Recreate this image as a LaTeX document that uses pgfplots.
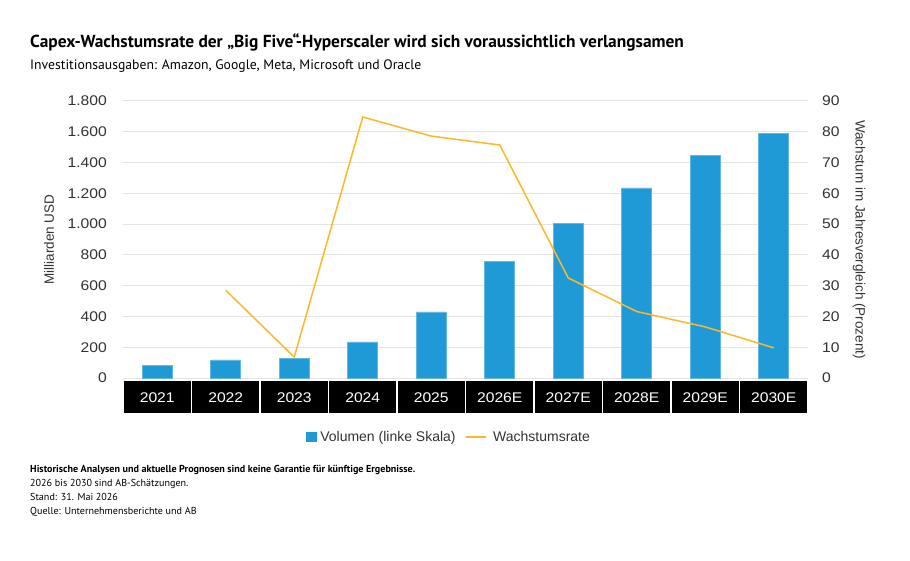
\documentclass[border=0pt]{standalone}
\usepackage{pgfplots}
\pgfplotsset{compat=1.18}
\usepackage{fontspec}
\setmainfont{PT Sans}
\newfontfamily\arialf{Liberation Sans}
\newfontfamily\arialw[FakeStretch=1.12]{Liberation Sans}
\definecolor{barblue}{HTML}{1F9AD6}
\definecolor{lineyel}{HTML}{FBB829}
\definecolor{gridg}{HTML}{E4E4E4}
\definecolor{txtg}{HTML}{333333}
\begin{document}
\begin{tikzpicture}[x=1pt,y=1pt]
\path[use as bounding box, fill=white] (0,0) rectangle (910,560);
\node[anchor=base west, font=\fontsize{17.4}{20}\selectfont\bfseries, inner sep=0] at (30,512) {Capex-Wachstumsrate der „Big Five“-Hyperscaler wird sich voraussichtlich verlangsamen};
\node[anchor=base west, font=\fontsize{13.7}{16}\selectfont, inner sep=0] at (30,490) {Investitionsausgaben: Amazon, Google, Meta, Microsoft und Oracle};
\node[anchor=base west, font=\fontsize{10.1}{12}\selectfont\bfseries, inner sep=0] at (30,88) {Historische Analysen und aktuelle Prognosen sind keine Garantie für künftige Ergebnisse.};
\node[anchor=base west, font=\fontsize{10.1}{12}\selectfont, inner sep=0] at (30,74) {2026 bis 2030 sind AB-Schätzungen.};
\node[anchor=base west, font=\fontsize{10.1}{12}\selectfont, inner sep=0] at (30,60) {Stand: 31. Mai 2026};
\node[anchor=base west, font=\fontsize{10.1}{12}\selectfont, inner sep=0] at (30,46) {Quelle: Unternehmensberichte und AB};

\begin{axis}[
  at={(123pt,182pt)}, anchor=south west,
  scale only axis, width=685pt, height=277pt,
  xmin=-0.5, xmax=9.5, ymin=0, ymax=1800,
  hide x axis,
  axis y line*=left,
  y axis line style={draw=none},
  ytick={0,200,...,1800},
  yticklabels={0,200,400,600,800,{1.000},{1.200},{1.400},{1.600},{1.800}},
  major tick length=0pt,
  ymajorgrids, grid style={gridg, line width=1pt},
  yticklabel style={anchor=east, inner sep=0pt, xshift=-16pt, font=\arialw\fontsize{14}{16}\selectfont, text=txtg},
  ylabel={Milliarden USD},
  ylabel style={at={(axis description cs:-0.108,0.5)}, anchor=center, font=\arialf\fontsize{13.5}{15}\selectfont, text=txtg},
  legend style={at={(axis description cs:0.476,-0.213)}, anchor=center, draw=none, fill=none, legend columns=2,
    font=\arialf\fontsize{14}{16}\selectfont, text=txtg, /tikz/every even column/.append style={column sep=8pt}},
]
\addplot[ybar, bar width=30pt, fill=barblue, draw=barblue!70!white, line width=0.6pt,
  legend image code/.code={\fill[barblue] (0pt,-4.5pt) rectangle (9.5pt,5pt); \path (11.5pt,0pt);}]
  coordinates {(0,84) (1,117) (2,125) (3,234) (4,429) (5,760) (6,1007) (7,1235) (8,1449) (9,1592)};
\addlegendentry{Volumen (linke Skala)}
\addlegendimage{lineyel, line width=1.5pt, legend image code/.code={\draw[lineyel, line width=1.5pt] (0pt,0pt) -- (20pt,0pt); \path (24pt,0pt);}}
\addlegendentry{Wachstumsrate}
\end{axis}

\begin{axis}[
  at={(123pt,182pt)}, anchor=south west,
  scale only axis, width=685pt, height=277pt,
  xmin=-0.5, xmax=9.5, ymin=0, ymax=90,
  axis y line*=right, axis x line*=bottom,
  x axis line style={draw=none}, y axis line style={draw=none},
  ytick={0,10,...,90},
  xtick={0,...,9},
  /pgf/number format/assume math mode=true,
  xticklabels={2021,2022,2023,2024,2025,2026E,2027E,2028E,2029E,2030E},
  major tick length=0pt,
  xticklabel style={anchor=north, inner sep=0pt, yshift=-3pt, fill=black, text=white,
    minimum width=67pt, minimum height=32pt, font=\arialw\fontsize{14}{16}\selectfont},
  yticklabel style={anchor=west, inner sep=0pt, xshift=14pt, font=\arialw\fontsize{14}{16}\selectfont, text=txtg},
  ylabel={Wachstum im Jahresvergleich (Prozent)},
  ylabel style={at={(axis description cs:1.0745,0.5)}, anchor=center, rotate=180, font=\arialf\fontsize{13.5}{15}\selectfont, text=txtg},
]
\addplot[lineyel, line width=1.5pt, mark=none]
  coordinates {(1,28.5) (2,6.8) (3,84.8) (4,78.6) (5,75.7) (6,32.5) (7,21.6) (8,16.6) (9,9.8)};
\end{axis}
\end{tikzpicture}
\end{document}
